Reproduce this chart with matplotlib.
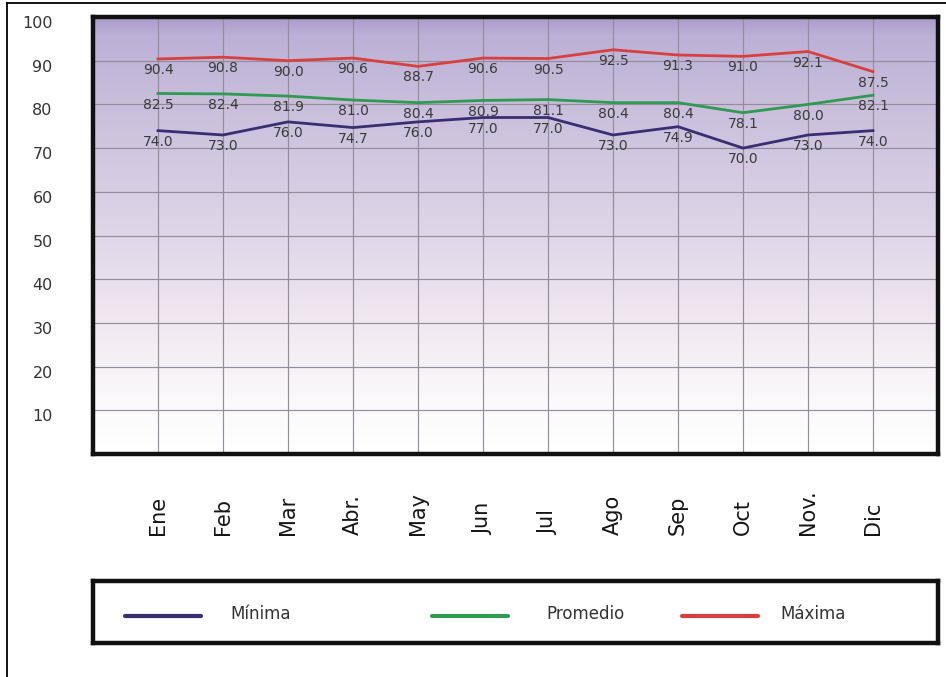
import numpy as np
import matplotlib
matplotlib.use("Agg")
import matplotlib.pyplot as plt
from matplotlib.colors import LinearSegmentedColormap
from matplotlib.lines import Line2D
import matplotlib.transforms as mtransforms

plt.rcParams['font.family'] = ['DejaVu Sans']

# Monthly data
months = ["Ene", "Feb", "Mar", "Abr.", "May", "Jun", "Jul", "Ago", "Sep", "Oct", "Nov.", "Dic"]
minima = [74.0, 73.0, 76.0, 74.7, 76.0, 77.0, 77.0, 73.0, 74.9, 70.0, 73.0, 74.0]
promedio = [82.5, 82.4, 81.9, 81.0, 80.4, 80.9, 81.1, 80.4, 80.4, 78.1, 80.0, 82.1]
maxima = [90.4, 90.8, 90.0, 90.6, 88.7, 90.6, 90.5, 92.5, 91.3, 91.0, 92.1, 87.5]
series_names = ["Mínima", "Promedio", "Máxima"]
series_colors = ["#3b2d72", "#2f9a52", "#d8403f"]
yticks = [10, 20, 30, 40, 50, 60, 70, 80, 90, 100]

W, H = 946, 677
fig = plt.figure(figsize=(W / 100, H / 100), dpi=100)
fig.patch.set_facecolor("white")

def fx(px):
    return px / W

def fy(py):
    return 1 - py / H

# outer page border (left and top edges)
fig.add_artist(Line2D([fx(7), fx(7)], [fy(3), 0], color="black", lw=1.3))
fig.add_artist(Line2D([fx(7), 1], [fy(3), fy(3)], color="black", lw=1.3))

ax_l, ax_r, ax_t, ax_b = 93, 938, 17, 454
ax = fig.add_axes([fx(ax_l), fy(ax_b), fx(ax_r - ax_l), (ax_b - ax_t) / H])

# vertical background gradient: lavender at top fading to white
grad_cmap = LinearSegmentedColormap.from_list(
    "bg",
    [(0.0, "#ffffff"), (0.12, "#fbf9fb"), (0.30, "#f1e8f1"),
     (0.55, "#dcd2e6"), (0.85, "#c6bada"), (0.96, "#bcb0d6"), (1.0, "#aa9ccb")])
grad = np.linspace(0, 1, 256).reshape(-1, 1)
ax.imshow(grad, cmap=grad_cmap, aspect="auto", origin="lower",
          extent=[0, 1, 0, 1], transform=ax.transAxes, zorder=0)

x = np.arange(len(months))
ax.set_xlim(-1, len(months))
ax.set_ylim(0, 100)

# grid
for v in yticks[:-1]:
    ax.axhline(v, color="#948b9b", lw=0.85, zorder=1)
for xi in x:
    ax.axvline(xi, color="#948b9b", lw=0.85, zorder=1)

for vals, col in zip([minima, promedio, maxima], series_colors):
    ax.plot(x, vals, color=col, lw=2.0, zorder=3, solid_joinstyle="miter")
    for xi, v in zip(x, vals):
        ax.annotate(f"{v:.1f}", (xi, v), xytext=(0, -8), textcoords="offset points",
                    ha="center", va="center", fontsize=10, color="#3a3a3a", zorder=4)

for s in ax.spines.values():
    s.set_linewidth(3.2)
    s.set_color("#111111")

ax.set_xticks([])
ax.set_yticks(yticks)
ax.set_yticklabels([str(v) for v in yticks], fontsize=11.5, color="#333333")
ax.tick_params(axis="y", length=0, pad=29)
offset = mtransforms.ScaledTranslation(0, -5 / 100, fig.dpi_scale_trans)
for lab in ax.get_yticklabels():
    lab.set_transform(lab.get_transform() + offset)

# rotated month labels
label_tr = mtransforms.blended_transform_factory(ax.transData, fig.transFigure)
for xi, m in zip(x, months):
    ax.text(xi, fy(535), m, rotation=90, ha="center", va="bottom",
            fontsize=15, color="#151515", transform=label_tr, clip_on=False)

# legend box
lg_t, lg_b = 581, 643
lax = fig.add_axes([fx(ax_l), fy(lg_b), fx(ax_r - ax_l), (lg_b - lg_t) / H])
lax.set_xlim(ax_l, ax_r)
lax.set_ylim(lg_b, lg_t)
lax.set_xticks([])
lax.set_yticks([])
for s in lax.spines.values():
    s.set_linewidth(3.2)
    s.set_color("#111111")
line_spans = [(125, 201), (432, 508), (682, 758)]
text_x = [230, 546, 780]
for (a, b), tx, name, col in zip(line_spans, text_x, series_names, series_colors):
    lax.plot([a, b], [616, 616], color=col, lw=3.0, solid_capstyle="round")
    lax.text(tx, 614, name, fontsize=12, color="#333333", ha="left", va="center")

fig.savefig("out.png", dpi=100)
